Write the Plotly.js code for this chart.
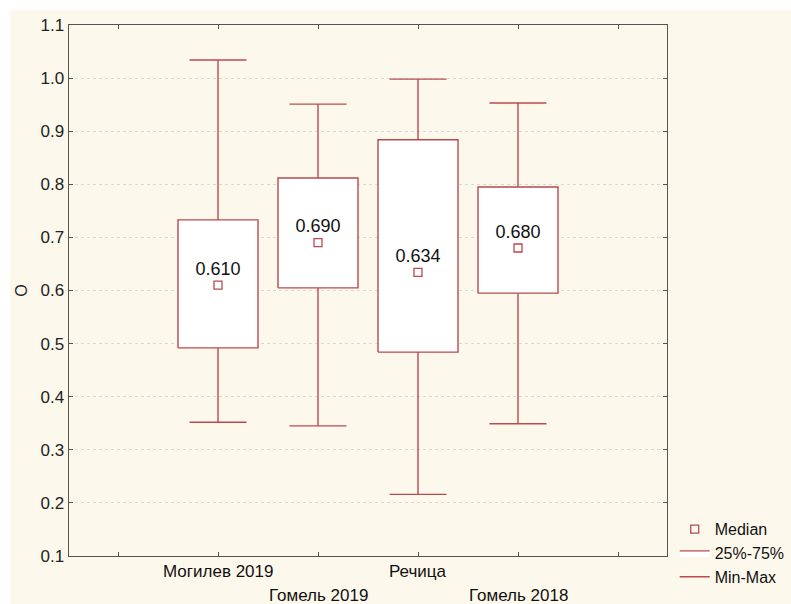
<!DOCTYPE html>
<html>
<head>
<meta charset="utf-8">
<script src="https://cdn.plot.ly/plotly-3.0.1.min.js"></script>
<style>html,body{margin:0;padding:0;background:#fff;}#chart{width:791px;height:604px;}</style>
</head>
<body>
<div id="chart"></div>
<script>
// Data
var categories = ["Могилев 2019", "Гомель 2019", "Речица", "Гомель 2018"];
var positions = [1, 2, 3, 4];
var medians = [0.610, 0.690, 0.634, 0.680];
var q1 = [0.492, 0.605, 0.484, 0.595];
var q3 = [0.733, 0.812, 0.884, 0.795];
var mins = [0.352, 0.345, 0.216, 0.349];
var maxs = [1.034, 0.951, 0.998, 0.953];
var medianLabels = ["0.610", "0.690", "0.634", "0.680"];
var yTicks = [0.1, 0.2, 0.3, 0.4, 0.5, 0.6, 0.7, 0.8, 0.9, 1.0, 1.1];
var yTickText = ["0.1", "0.2", "0.3", "0.4", "0.5", "0.6", "0.7", "0.8", "0.9", "1.0", "1.1"];

var red = "#b84a4f";
var fontFam = "Liberation Sans, Arial, sans-serif";
var boxHalf = 0.4, capHalf = 0.285;

var wx = [], wy = [], bx = [], by = [];
for (var i = 0; i < positions.length; i++) {
  var p = positions[i];
  wx.push(p, p, null, p, p, null, p - capHalf, p + capHalf, null, p - capHalf, p + capHalf, null);
  wy.push(mins[i], q1[i], null, q3[i], maxs[i], null, mins[i], mins[i], null, maxs[i], maxs[i], null);
  bx.push(p - boxHalf, p + boxHalf, p + boxHalf, p - boxHalf, p - boxHalf, null);
  by.push(q1[i], q1[i], q3[i], q3[i], q1[i], null);
}

var traces = [
  {x: wx, y: wy, type: "scatter", mode: "lines", name: "Min-Max",
   line: {color: red, width: 1.4}, hoverinfo: "skip"},
  {x: bx, y: by, type: "scatter", mode: "lines", name: "25%-75%", fill: "toself",
   fillcolor: "#ffffff", line: {color: red, width: 1.4}, hoverinfo: "skip"},
  {x: positions, y: medians, type: "scatter", mode: "markers+text", name: "Median",
   text: medianLabels, textposition: "top center",
   textfont: {family: fontFam, size: 18, color: "#111"},
   marker: {symbol: "square-open", size: 8, color: red, line: {width: 1.3, color: red}},
   cliponaxis: false}
];

var annotations = [];
for (var j = 0; j < categories.length; j++) {
  annotations.push({x: positions[j], xref: "x", y: (j % 2 === 0) ? -0.03 : -0.075, yref: "paper",
    yanchor: "middle", xanchor: "center", showarrow: false, text: categories[j],
    font: {family: fontFam, size: 17, color: "#111"}});
}

var layout = {
  width: 791, height: 604,
  margin: {l: 69, r: 124, t: 25, b: 48, pad: 0, autoexpand: false},
  paper_bgcolor: "#ffffff",
  plot_bgcolor: "#ffffff",
  showlegend: true,
  legend: {xref: "container", yref: "container", x: 0.853, xanchor: "left", y: 0.152, yanchor: "top",
    bgcolor: "rgba(0,0,0,0)",
    font: {family: fontFam, size: 16, color: "#111"},
    traceorder: "reversed", itemwidth: 30, tracegroupgap: 0},
  xaxis: {range: [-0.49, 5.49], tickvals: [0, 1, 2, 3, 4, 5], ticktext: ["", "", "", "", "", ""],
    ticks: "inside", ticklen: 4, tickcolor: "#555", showgrid: false, zeroline: false,
    showline: true, linecolor: "#555", linewidth: 1.4, mirror: "ticks", fixedrange: true},
  yaxis: {range: [0.1, 1.1], tickvals: yTicks, ticktext: yTickText,
    ticks: "inside", ticklen: 4, tickcolor: "#555",
    showgrid: true, gridcolor: "#d8d8d8", griddash: "dot", gridwidth: 1,
    zeroline: false, showline: true, linecolor: "#555", linewidth: 1.4, mirror: "ticks",
    tickfont: {family: fontFam, size: 17, color: "#222"},
    title: {text: "O", standoff: 9, font: {family: fontFam, size: 16, color: "#222"}},
    fixedrange: true},
  annotations: annotations,
  shapes: [{type: "rect", xref: "paper", yref: "paper", layer: "below",
    x0: -0.0987, x1: 1.21, y0: -0.095, y1: 1.0283, fillcolor: "#fdf8ec", line: {width: 0}}]
};

Plotly.newPlot("chart", traces, layout, {displayModeBar: false, staticPlot: true});
</script>
</body>
</html>
